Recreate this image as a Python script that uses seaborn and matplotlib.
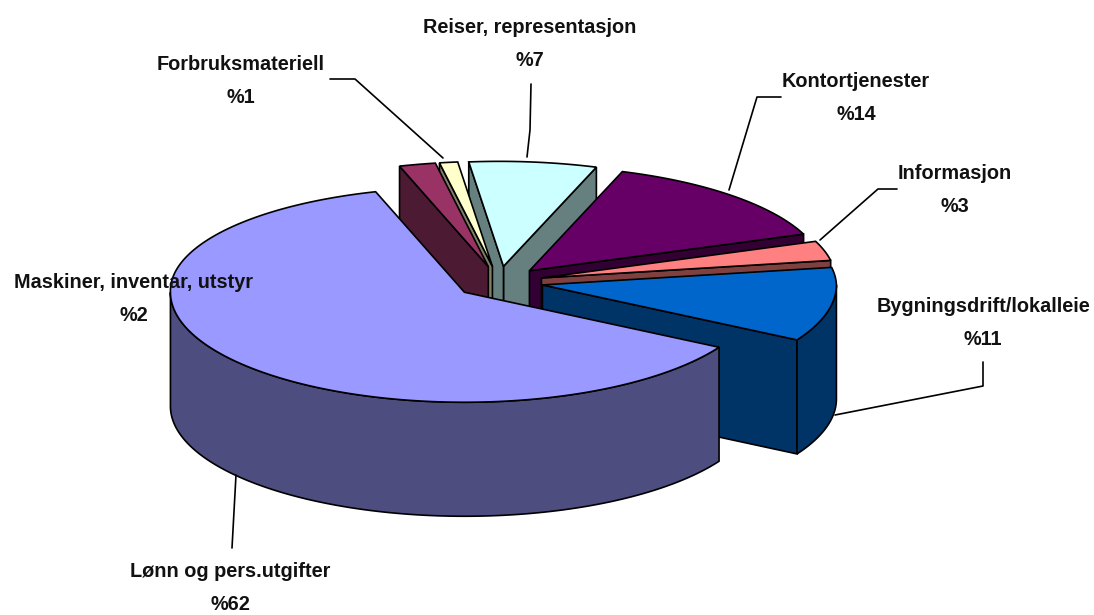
import numpy as np
import seaborn as sns
import matplotlib
matplotlib.use("Agg")
import matplotlib.pyplot as plt

# slices, counter clockwise from the lower right edge of the big slice
names = ["Bygningsdrift/lokalleie", "Informasjon", "Kontortjenester",
         "Reiser, representasjon", "Forbruksmateriell",
         "Maskiner, inventar, utstyr", "Lønn og pers.utgifter"]
shares = [11, 3, 14, 7, 1, 2, 62]
top_colors = ["#0066CC", "#FF8080", "#660066", "#CCFFFF", "#FFFFCC", "#993366", "#9999FF"]
side_colors = ["#003366", "#804040", "#330033", "#668080", "#808066", "#4D1A33", "#4D4D80"]

# back to front
draw_order = [3, 4, 5, 2, 1, 0, 6]

# pie geometry in pixels
cx, cy = 499, 282
rx, ry_back, ry_front = 294, 105, 110
back_shear = 4
depth = 114
explode = 0.15
start_angle = -30

# label text centres, pixels
label_pos = [(983, 323), (955, 190), (856, 98), (530, 44), (241, 81), (134, 299), (230, 588)]

# leader lines, pixels
leaders = [
    [(983, 362), (983, 386), (835, 415)],
    [(897, 189), (878, 189), (820, 240)],
    [(781, 97), (757, 97), (729, 190)],
    [(531, 84), (530, 130), (527, 157)],
    [(330, 79), (355, 79), (443, 158)],
    [(236, 475), (232, 548)],
]

sns.set_theme(style="white")
plt.rcParams["font.family"] = ["Liberation Sans", "DejaVu Sans"]


def project(theta, r=1.0):
    # squashed circle, the back half is a bit flatter and leans left (perspective)
    s = np.sin(theta)
    ry = np.where(s > 0, ry_back, ry_front)
    lean = np.where(s > 0, back_shear * s, 0)
    return r * (rx * np.cos(theta) - lean), -r * ry * s


fig = plt.figure(figsize=(10.94, 6.15), dpi=100)
ax = fig.add_axes([0, 0, 1, 1])
ax.set_xlim(0, 1094)
ax.set_ylim(615, 0)
ax.axis("off")

edges = start_angle + 3.6 * np.cumsum([0] + shares)
edge_style = dict(edgecolor="black", linewidth=1.2, joinstyle="miter")

for i in draw_order:
    th0, th1 = np.radians(edges[i]), np.radians(edges[i + 1])
    ex, ey = project((th0 + th1) / 2, explode)
    tx, ty = cx + ex, cy + ey

    # cut faces that look towards the viewer
    for th, visible in [(th0, np.cos(th0) > 0), (th1, np.cos(th1) < 0)]:
        if visible:
            px, py = project(th)
            ax.fill([tx, tx + px, tx + px, tx],
                    [ty, ty + py, ty + py + depth, ty + depth],
                    facecolor=side_colors[i], **edge_style)

    # outer wall, front half only
    arc = np.linspace(th0, th1, 400)
    arc = arc[np.sin(arc) <= 0]
    if len(arc):
        px, py = project(arc)
        ax.fill(np.r_[tx + px, (tx + px)[::-1]],
                np.r_[ty + py, (ty + py + depth)[::-1]],
                facecolor=side_colors[i], **edge_style)

    # top face
    arc = np.linspace(th0, th1, 400)
    px, py = project(arc)
    ax.fill(np.r_[tx, tx + px], np.r_[ty, ty + py],
            facecolor=top_colors[i], **edge_style)

for line in leaders:
    xs, ys = zip(*line)
    ax.plot(xs, ys, color="black", linewidth=1.2)

for name, share, (lx, ly) in zip(names, shares, label_pos):
    ax.text(lx, ly, f"{name}\n%{share}", ha="center", va="center",
            fontsize=14.3, fontweight="bold", color="#111111", linespacing=1.98)

fig.savefig("out.png", dpi=100)
plt.close(fig)
